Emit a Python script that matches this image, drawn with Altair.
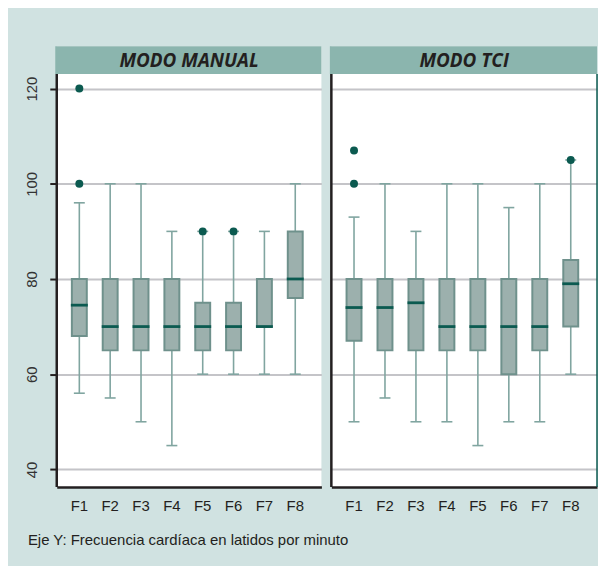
import altair as alt
import pandas as pd

# ---------------- data ----------------
phases = ["F1", "F2", "F3", "F4", "F5", "F6", "F7", "F8"]
panels = ["MODO MANUAL", "MODO TCI"]

manual_lo = [56, 55, 50, 45, 60, 60, 60, 60]
manual_q1 = [68, 65, 65, 65, 65, 65, 70, 76]
manual_med = [74.5, 70, 70, 70, 70, 70, 70, 80]
manual_q3 = [80, 80, 80, 80, 75, 75, 80, 90]
manual_hi = [96, 100, 100, 90, 90, 90, 90, 100]
manual_out_phase = ["F1", "F1", "F5", "F6"]
manual_out_value = [120, 100, 90, 90]

tci_lo = [50, 55, 50, 50, 45, 50, 50, 60]
tci_q1 = [67, 65, 65, 65, 65, 60, 65, 70]
tci_med = [74, 74, 75, 70, 70, 70, 70, 79]
tci_q3 = [80, 80, 80, 80, 80, 80, 80, 84]
tci_hi = [93, 100, 90, 100, 100, 95, 100, 105]
tci_out_phase = ["F1", "F1", "F8"]
tci_out_value = [107, 100, 105]

y_ticks = [40, 60, 80, 100, 120]
caption = "Eje Y: Frecuencia cardíaca en latidos por minuto"

# ---------------- style ----------------
BG = "#d0e2e1"
HDR = "#8bb5ae"
BOX_FILL = "#9cb0ad"
BOX_STROKE = "#6f918c"
MED = "#0b5a50"
WHISK = "#80a5a0"
GRID = "#c4c4c8"
INK = "#231f20"
FONT = "Liberation Sans"

H = 443      # panel height incl. header strip
HH = 28      # header strip height


def panel(title, lo, q1, med, q3, hi, op, ov, W, first):
    df = pd.DataFrame(dict(phase=phases, lo=lo, q1=q1, med=med, q3=q3, hi=hi))
    out = pd.DataFrame(dict(phase=op, value=ov))
    hdr = pd.DataFrame(dict(t=[title]))

    xs = alt.Scale(domain=phases, paddingInner=0, paddingOuter=0.29, align=0.4)
    xa = alt.Axis(title=None, labelAngle=0, ticks=False, domain=True,
                  domainColor=INK, domainWidth=2.5, labelFont=FONT,
                  labelFontSize=15, labelColor=INK, labelPadding=12, grid=False)
    ys = alt.Scale(domain=[36.3, 128.9], nice=False, zero=False)
    if first:
        ya = alt.Axis(values=y_ticks, title=None, labelAngle=-90, labelFont=FONT,
                      labelFontSize=15, labelColor="#333333", labelPadding=10,
                      tickColor=INK, tickSize=7, tickWidth=2, domain=False,
                      grid=True, gridColor=GRID, gridWidth=2)
    else:
        ya = alt.Axis(values=y_ticks, title=None, labels=False, ticks=False,
                      domain=False, grid=True, gridColor=GRID, gridWidth=2,
                      minExtent=0, maxExtent=0)

    def X():
        return alt.X("phase:N", scale=xs, axis=xa)

    def Y(f):
        return alt.Y(f, scale=ys, axis=ya)

    base = alt.Chart(df)

    header = alt.Chart(hdr).mark_rect(color=HDR).encode(
        x=alt.value(-1.5), x2=alt.value(W), y=alt.value(0), y2=alt.value(HH))
    htext = alt.Chart(hdr).mark_text(
        font="Open Sans", fontStyle="italic", fontWeight="bold", fontSize=19,
        color=INK, align="center", baseline="middle").encode(
        x=alt.value(W / 2), y=alt.value(HH / 2 + 1), text="t:N")

    whisk = base.mark_rule(color=WHISK, strokeWidth=1.6).encode(
        x=X(), y=Y("lo:Q"), y2="hi:Q")
    cap_lo = base.mark_tick(color=WHISK, size=11, thickness=1.6, opacity=1).encode(
        x=X(), y=Y("lo:Q"))
    cap_hi = base.mark_tick(color=WHISK, size=11, thickness=1.6, opacity=1).encode(
        x=X(), y=Y("hi:Q"))
    box = base.mark_bar(size=15, fill=BOX_FILL, stroke=BOX_STROKE,
                        strokeWidth=2, opacity=1).encode(x=X(), y=Y("q1:Q"), y2="q3:Q")
    median = base.mark_tick(color=MED, size=17, thickness=2.8, opacity=1).encode(
        x=X(), y=Y("med:Q"))
    dots = alt.Chart(out).mark_circle(color=MED, size=64, opacity=1).encode(
        x=X(), y=Y("value:Q"))

    left = alt.Chart(hdr).mark_rule(color=INK, strokeWidth=2.5).encode(
        x=alt.value(0), y=alt.value(HH), y2=alt.value(H))
    layers = [header, htext, whisk, cap_lo, cap_hi, box, median, dots, left]
    if not first:
        right = alt.Chart(hdr).mark_rule(color=MED, strokeWidth=1.5).encode(
            x=alt.value(W), y=alt.value(HH), y2=alt.value(H))
        layers.append(right)
    return alt.layer(*layers).properties(width=W, height=H)


p1 = panel(panels[0], manual_lo, manual_q1, manual_med, manual_q3, manual_hi,
           manual_out_phase, manual_out_value, 266, True)
p2 = panel(panels[1], tci_lo, tci_q1, tci_med, tci_q3, tci_hi,
           tci_out_phase, tci_out_value, 267, False)

chart = alt.hconcat(p1, p2, spacing=8).properties(
    title=alt.TitleParams(text=caption, orient="bottom", anchor="start",
                          offset=19, dx=3, font=FONT, fontSize=15,
                          fontWeight="normal", color=INK),
    padding={"left": 16, "top": 37, "right": 0, "bottom": 17},
    background=BG,
).configure_view(stroke=None, fill="white")

chart.save("out.html", embed_options={"renderer": "svg", "actions": False})
